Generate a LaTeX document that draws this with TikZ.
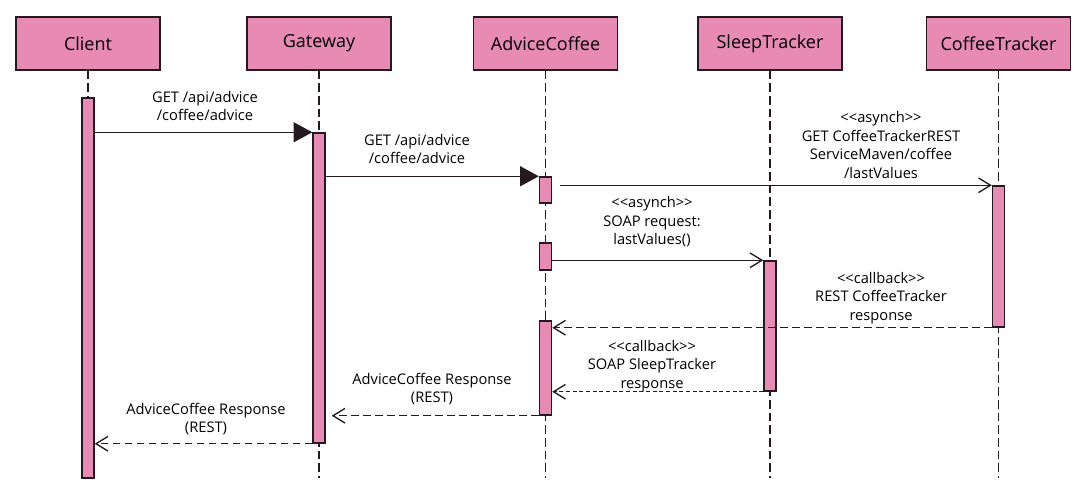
\documentclass[tikz,border=0pt]{standalone}
\usepackage{fontspec}
\usepackage{tikz}
\usetikzlibrary{arrows.meta}
\newfontfamily\diagfont{Open Sans}
\definecolor{barpink}{RGB}{231,139,180}
\definecolor{edge}{RGB}{35,25,30}

\begin{document}
\begin{tikzpicture}[x=0.75pt,y=-0.75pt,
  headbox/.style={draw=edge,fill=barpink,line width=1.1pt,minimum width=108pt,minimum height=39.75pt,inner sep=0pt,font=\diagfont\fontsize{13.5}{16}\selectfont},
  actbar/.style={draw=edge,fill=barpink,line width=1.1pt,minimum width=9pt,inner sep=0pt},
  lifeline/.style={draw=edge,line width=0.85pt,dash pattern=on 6.5pt off 3pt},
  callmsg/.style={draw=edge,line width=1pt,-{Triangle[length=14pt,width=15pt]}},
  asyncmsg/.style={draw=edge,line width=1pt,-{Straight Barb[length=9pt,width=11pt,line width=1pt]}},
  replymsg/.style={asyncmsg,dash pattern=on 5.5pt off 3.5pt},
  lbl/.style={align=center,inner sep=0pt,font=\diagfont\fontsize{11}{13.9}\selectfont}]
\useasboundingbox (0,0) rectangle (1089,498);

% participants and lifelines
\foreach \n/\x/\t in {cl/88/Client,gw/319/Gateway,ac/545.5/AdviceCoffee,st/770/SleepTracker,ct/998.5/CoffeeTracker} {
\node[headbox] (\n) at (\x,43.5) {\t};
\draw[lifeline] (\n.south) -- (\x,478);
}

% activation bars
\foreach \n/\x/\ya/\yb in {cb/88/98/478,gb/319/133/443,ab1/545.5/177/203,ab2/545.5/243/270,ab3/545.5/321/415,sb/770/261/391,tb/998.5/186/327} {
\node[actbar,minimum height={(\yb-\ya)*0.75pt}] (\n) at (\x,{(\ya+\yb)/2}) {};
}

% requests
\draw[callmsg] (cb.east |- gb.north) -- (gb.north west);
\node[lbl] (m1) at (205,106) {GET /api/advice\\/coffee/advice};

\draw[callmsg] (gb.east |- ab1.north) -- (ab1.north west);
\node[lbl] (m2) at (417,149) {GET /api/advice\\/coffee/advice};

\draw[asyncmsg] ([xshift=5.5pt]ab1.east |- tb.north) -- (tb.north west);
\node[lbl] (m3) at (881,145) {<<asynch>>\\GET CoffeeTrackerREST\\ServiceMaven/coffee\\/lastValues};

\draw[asyncmsg] (ab2.east |- sb.north) -- (sb.north west);
\node[lbl] (m4) at (652,222) {<<asynch>>\\SOAP request:\\lastValues()};

% callbacks and responses
\draw[replymsg] (tb.south west) -- (ab3.east |- tb.south);
\node[lbl] (m5) at (881,298) {<<callback>>\\REST CoffeeTracker\\response};

\draw[replymsg,dash pattern=on 3pt off 2pt] (sb.south west) -- (ab3.east |- sb.south);
\node[lbl] (m6) at (652,366) {<<callback>>\\SOAP SleepTracker\\response};

\draw[replymsg] (ab3.south west) -- ([xshift=4.5pt]gb.east |- ab3.south);
\node[lbl] (m7) at (432,389) {AdviceCoffee Response\\(REST)};

\draw[replymsg] (gb.south west) -- (cb.east |- gb.south);
\node[lbl] (m8) at (206,419) {AdviceCoffee Response\\(REST)};
\end{tikzpicture}
\end{document}
